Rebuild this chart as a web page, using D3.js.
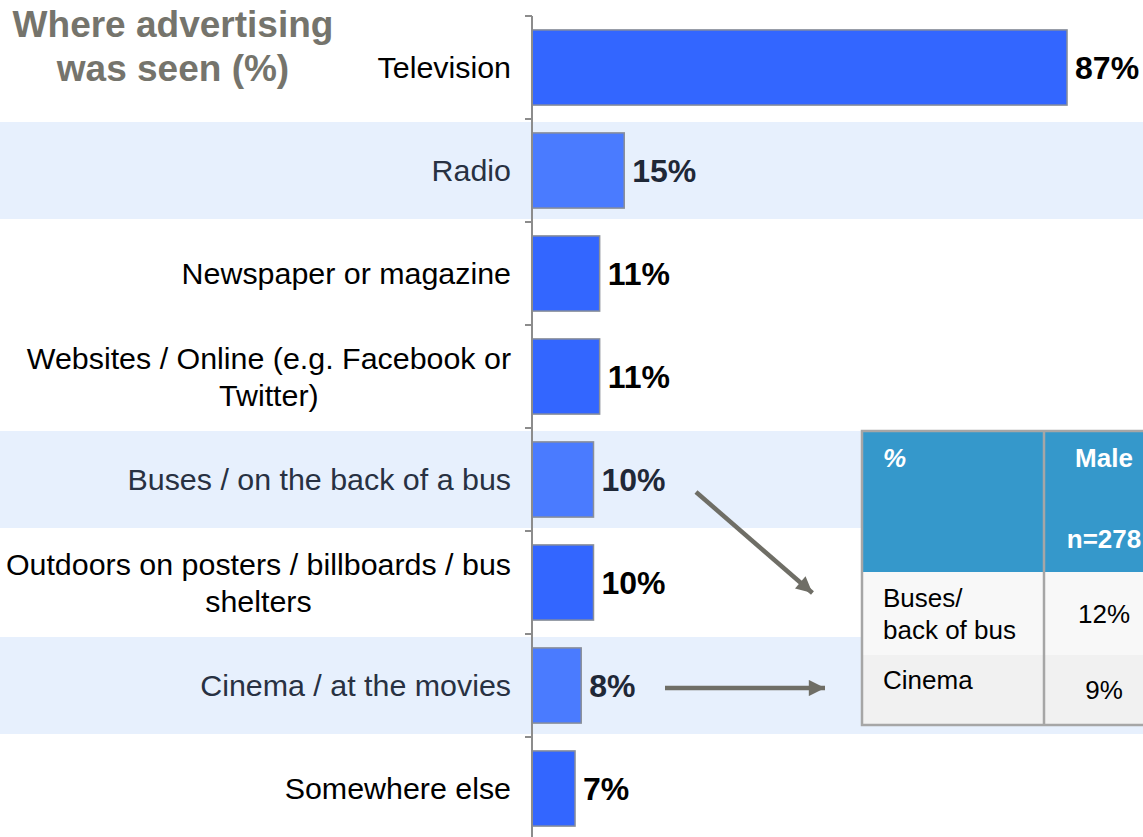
<!DOCTYPE html>
<html>
<head>
<meta charset="utf-8">
<script src="https://cdn.jsdelivr.net/npm/d3@7"></script>
<style>
  html, body { margin: 0; padding: 0; background: #fff; }
  svg { display: block; font-family: "Liberation Sans", Arial, sans-serif; }
</style>
</head>
<body>
<svg id="chart" width="1143" height="837"></svg>
<script>
// Where advertising was seen (%)
const categories = [
  "Television",
  "Radio",
  "Newspaper or magazine",
  "Websites / Online (e.g. Facebook or\nTwitter)",
  "Buses / on the back of a bus",
  "Outdoors on posters / billboards / bus\nshelters",
  "Cinema / at the movies",
  "Somewhere else"
];
const values = [87, 15, 11, 11, 10, 10, 8, 7];
const shadedRows = [false, true, false, false, true, false, true, false];

const titleLines = ["Where advertising", "was seen (%)"];

// Breakdown table
const tableHead = ["%", "Male", "n=278"];
const tableLabels = ["Buses/\nback of bus", "Cinema"];
const tableValues = [12, 9];

const svg = d3.select("#chart");
const W = 1143, H = 837;

const y = d3.scaleBand()
  .domain(d3.range(categories.length))
  .range([16, 840])
  .paddingInner(0.27)
  .paddingOuter(0.135);

const x = d3.scaleLinear().domain([0, 100]).range([532, 1147]);

// row shading
svg.append("g").selectAll("rect")
  .data(d3.range(categories.length).filter(i => shadedRows[i]))
  .join("rect")
  .attr("x", 0)
  .attr("width", W)
  .attr("y", i => y(i) - y.step() * y.paddingInner() / 2 + 3)
  .attr("height", y.step() - 6)
  .attr("fill", "#e7f0fd");

// bars
svg.append("g").selectAll("rect")
  .data(values)
  .join("rect")
  .attr("x", x(0))
  .attr("y", (d, i) => y(i))
  .attr("width", d => x(d) - x(0))
  .attr("height", y.bandwidth())
  .attr("fill", (d, i) => shadedRows[i] ? "#4a7bff" : "#3366ff")
  .attr("stroke", "#8a8f99")
  .attr("stroke-width", 1.5);

// axis with ticks at the row boundaries
const bounds = d3.range(categories.length).map(i => y(i) - y.step() * y.paddingInner() / 2);
const axisG = svg.append("g");
axisG.append("line")
  .attr("x1", x(0)).attr("x2", x(0))
  .attr("y1", bounds[0]).attr("y2", H)
  .attr("stroke", "#8c8c8c").attr("stroke-width", 2);
axisG.selectAll("line.tick")
  .data(bounds)
  .join("line")
  .attr("class", "tick")
  .attr("x1", x(0) - 7).attr("x2", x(0))
  .attr("y1", d => d).attr("y2", d => d)
  .attr("stroke", "#8c8c8c").attr("stroke-width", 2);

// category labels (multi-line labels are centred on their widest line)
const labelRight = 511;
const lineH = 37;
categories.forEach((c, i) => {
  const lines = c.split("\n");
  const cy = y(i) + y.bandwidth() / 2;
  const t = svg.append("text")
    .attr("font-size", 30.4)
    .attr("fill", shadedRows[i] ? "#283142" : "#000");
  const spans = lines.map((ln, k) => t.append("tspan")
    .attr("y", cy + (k - (lines.length - 1) / 2) * lineH)
    .attr("dy", "0.35em")
    .text(ln));
  const maxW = d3.max(spans, s => s.node().getComputedTextLength());
  spans.forEach(s => s.attr("x", labelRight - maxW / 2).attr("text-anchor", "middle"));
});

// value labels
svg.append("g").selectAll("text")
  .data(values)
  .join("text")
  .attr("x", d => x(d) + 8)
  .attr("y", (d, i) => y(i) + y.bandwidth() / 2)
  .attr("dy", "0.36em")
  .attr("font-size", 32)
  .attr("font-weight", "bold")
  .attr("fill", (d, i) => shadedRows[i] ? "#1f2837" : "#000")
  .text(d => d + "%");

// title
svg.append("text")
  .attr("font-size", 37)
  .attr("font-weight", "bold")
  .attr("fill", "#75746c")
  .attr("text-anchor", "middle")
  .selectAll("tspan")
  .data(titleLines)
  .join("tspan")
  .attr("x", 173)
  .attr("y", (d, i) => 37 + i * 44)
  .text(d => d);

// breakdown table
const tb = { x: 862, y: 431, c1: 1044, c2w: 122, head: 141, r1: 83, r2: 70 };
const tg = svg.append("g");
tg.append("rect").attr("x", tb.x).attr("y", tb.y).attr("width", tb.c1 - tb.x + tb.c2w).attr("height", tb.head).attr("fill", "#3598cb");
tg.append("rect").attr("x", tb.x).attr("y", tb.y + tb.head).attr("width", tb.c1 - tb.x + tb.c2w).attr("height", tb.r1).attr("fill", "#f8f8f8");
tg.append("rect").attr("x", tb.x).attr("y", tb.y + tb.head + tb.r1).attr("width", tb.c1 - tb.x + tb.c2w).attr("height", tb.r2).attr("fill", "#f1f1f1");
tg.append("rect")
  .attr("x", tb.x).attr("y", tb.y)
  .attr("width", tb.c1 - tb.x + tb.c2w).attr("height", tb.head + tb.r1 + tb.r2)
  .attr("fill", "none").attr("stroke", "#a6a6a6").attr("stroke-width", 2.5);
tg.append("line")
  .attr("x1", tb.c1).attr("x2", tb.c1)
  .attr("y1", tb.y).attr("y2", tb.y + tb.head + tb.r1 + tb.r2)
  .attr("stroke", "#a6a6a6").attr("stroke-width", 2.5);

const colC = tb.c1 + 60;
tg.append("text").attr("x", 883).attr("y", 467)
  .attr("font-size", 26).attr("font-weight", "bold").attr("font-style", "italic")
  .attr("fill", "#fff").text(tableHead[0]);
tg.append("text").attr("x", colC).attr("y", 467).attr("text-anchor", "middle")
  .attr("font-size", 26).attr("font-weight", "bold").attr("fill", "#fff").text(tableHead[1]);
tg.append("text").attr("x", colC).attr("y", 548).attr("text-anchor", "middle")
  .attr("font-size", 26).attr("font-weight", "bold").attr("fill", "#fff").text(tableHead[2]);

const rowLabelY = [607, 689];
const rowValueY = [623, 699];
tableLabels.forEach((lab, i) => {
  const t = tg.append("text").attr("font-size", 26).attr("fill", "#000");
  lab.split("\n").forEach((ln, k) => {
    t.append("tspan").attr("x", 883).attr("y", rowLabelY[i] + k * 32).text(ln);
  });
  tg.append("text").attr("x", colC).attr("y", rowValueY[i]).attr("text-anchor", "middle")
    .attr("font-size", 26).attr("fill", "#000").text(tableValues[i] + "%");
});

// connector arrows from bars to the table
const defs = svg.append("defs");
defs.append("marker")
  .attr("id", "arrowhead")
  .attr("viewBox", "0 0 10 10")
  .attr("refX", 10).attr("refY", 5)
  .attr("markerWidth", 3.8).attr("markerHeight", 3.6)
  .attr("markerUnits", "strokeWidth")
  .attr("orient", "auto")
  .append("path").attr("d", "M0,0 L10,5 L0,10 Z").attr("fill", "#6f6e66");

const arrows = [
  { from: [696, 492], to: [817, 597] },
  { from: [665, 688], to: [831, 688] }
];
svg.append("g").selectAll("line")
  .data(arrows)
  .join("line")
  .attr("x1", d => d.from[0]).attr("y1", d => d.from[1])
  .attr("x2", d => d.to[0] - (d.to[0] - d.from[0]) / Math.hypot(d.to[0] - d.from[0], d.to[1] - d.from[1]) * 6)
  .attr("y2", d => d.to[1] - (d.to[1] - d.from[1]) / Math.hypot(d.to[0] - d.from[0], d.to[1] - d.from[1]) * 6)
  .attr("stroke", "#6f6e66").attr("stroke-width", 4.5)
  .attr("marker-end", "url(#arrowhead)");
</script>
</body>
</html>
